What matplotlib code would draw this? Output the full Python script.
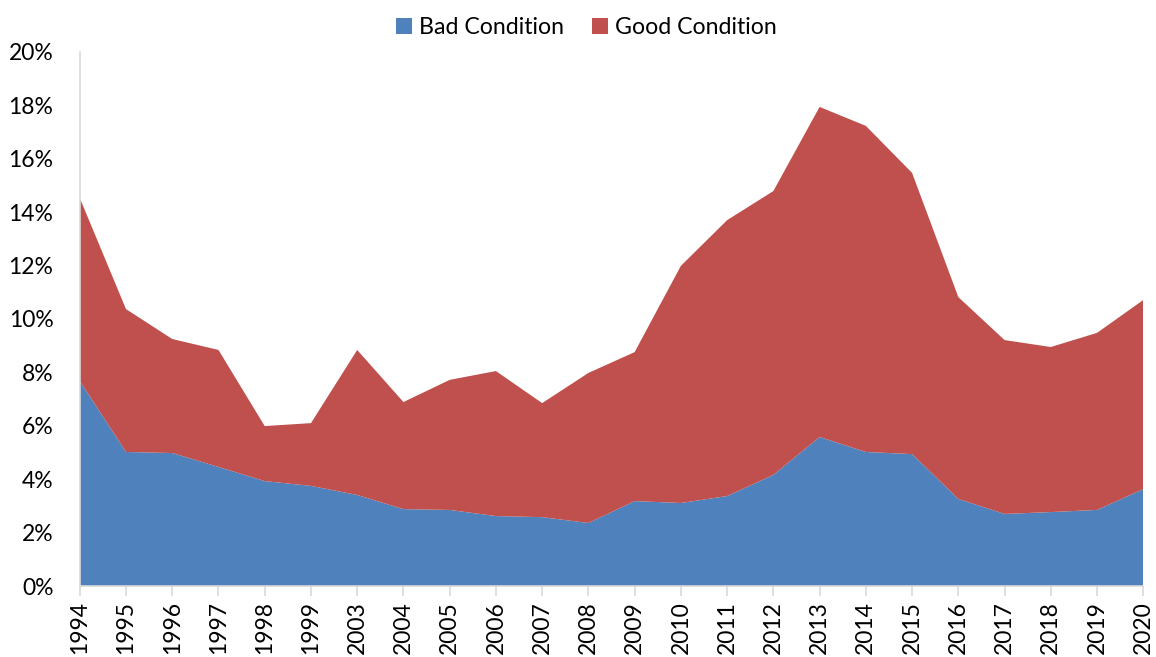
import matplotlib.pyplot as plt
import numpy as np
from matplotlib.ticker import FuncFormatter

years = ["1994", "1995", "1996", "1997", "1998", "1999", "2003", "2004", "2005",
         "2006", "2007", "2008", "2009", "2010", "2011", "2012", "2013", "2014",
         "2015", "2016", "2017", "2018", "2019", "2020"]
bad = [7.68, 5.02, 4.98, 4.46, 3.93, 3.75, 3.41, 2.88, 2.85, 2.62, 2.58, 2.36,
       3.18, 3.11, 3.37, 4.16, 5.58, 5.02, 4.94, 3.26, 2.70, 2.77, 2.85, 3.63]
total = [14.53, 10.37, 9.25, 8.84, 5.99, 6.10, 8.84, 6.89, 7.72, 8.05, 6.85, 7.98,
         8.76, 11.99, 13.70, 14.79, 17.94, 17.23, 15.47, 10.82, 9.21, 8.95, 9.48, 10.71]
good = [t - b for t, b in zip(total, bad)]

plt.rcParams['font.family'] = ['Lato', 'DejaVu Sans']

fig = plt.figure(figsize=(11.56, 6.57), dpi=100)
ax = fig.add_axes([0.069, 0.108, 0.920, 0.813])

x = np.arange(len(years))
ax.stackplot(x, bad, good, colors=["#4F81BD", "#C0504D"],
             labels=["Bad Condition", "Good Condition"], linewidth=0)

ax.set_xlim(0, len(years) - 1)
ax.set_ylim(0, 20)
ax.set_yticks(np.arange(0, 21, 2))
ax.yaxis.set_major_formatter(FuncFormatter(lambda v, p: f"{v:.0f}%"))
ax.set_xticks(x)
ax.set_xticklabels(years, rotation=90)

for s in ["top", "right"]:
    ax.spines[s].set_visible(False)
for s in ["left", "bottom"]:
    ax.spines[s].set_color("#D9D9D9")
    ax.spines[s].set_linewidth(1.2)
ax.tick_params(axis="y", length=0, labelsize=16.5, pad=19)
ax.tick_params(axis="x", length=7, color="#D9D9D9", width=1.2, labelsize=16.5, pad=4)

ax.legend(loc="upper center", bbox_to_anchor=(0.476, 1.104), ncol=2, frameon=False,
          fontsize=16.7, handlelength=0.7, handleheight=0.7, handletextpad=0.3,
          columnspacing=1.2)

fig.savefig("out.png", dpi=100)
